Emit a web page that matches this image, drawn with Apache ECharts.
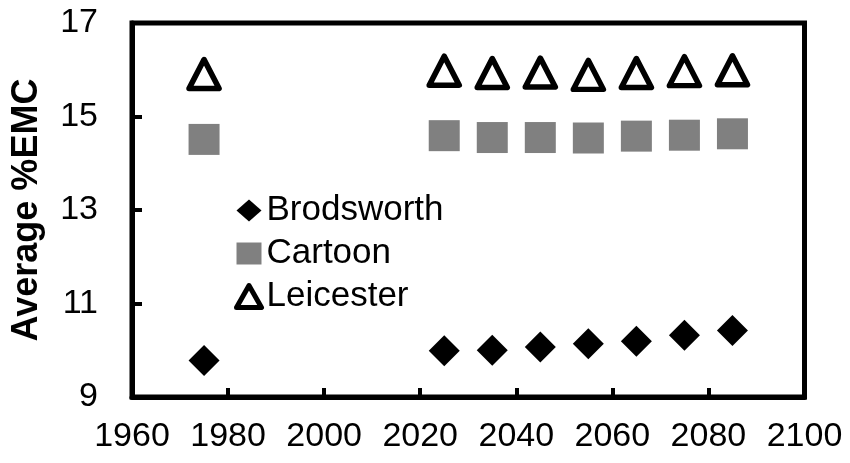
<!DOCTYPE html>
<html>
<head>
<meta charset="utf-8">
<script src="https://cdn.jsdelivr.net/npm/echarts@6/dist/echarts.min.js"></script>
<style>
html, body { margin: 0; padding: 0; background: #fff; }
#chart { width: 850px; height: 463px; }
</style>
</head>
<body>
<div id="chart"></div>
<script>
// Sampling years: historic baseline plus future decades
const years = [1975, 2025, 2035, 2045, 2055, 2065, 2075, 2085];

// Average equilibrium moisture content (%EMC) per site
const brodsworth = [9.78, 9.99, 10.00, 10.07, 10.14, 10.19, 10.32, 10.42];
const cartoon    = [14.51, 14.59, 14.55, 14.55, 14.54, 14.58, 14.60, 14.63];
const leicester  = [15.91, 15.98, 15.93, 15.94, 15.89, 15.93, 15.97, 15.99];

const xTicks = { min: 1960, max: 2100, step: 20 };
const yTicks = { min: 9, max: 17, step: 2 };

const font = "'Liberation Sans', Arial, sans-serif";

function pairs(vals) {
  return years.map((y, i) => [y, vals[i]]);
}

const chart = echarts.init(document.getElementById('chart'), null, { renderer: 'canvas' });

chart.setOption({
  animation: false,
  backgroundColor: '#ffffff',
  grid: {
    left: 132, right: 45.5, top: 23, bottom: 66,
    show: true, borderColor: '#000', borderWidth: 5, backgroundColor: 'transparent'
  },
  xAxis: {
    type: 'value',
    min: xTicks.min, max: xTicks.max, interval: xTicks.step,
    axisLine: { show: true, lineStyle: { color: '#000', width: 5 } },
    axisTick: { show: true, inside: true, length: 9, lineStyle: { color: '#000', width: 4 } },
    splitLine: { show: false },
    axisLabel: { color: '#000', fontFamily: font, fontSize: 34, margin: 23,
      formatter: v => String(v) }
  },
  yAxis: {
    type: 'value',
    min: yTicks.min, max: yTicks.max, interval: yTicks.step,
    name: 'Average %EMC',
    nameLocation: 'middle',
    nameRotate: 90,
    nameGap: 87,
    nameTextStyle: { color: '#000', fontFamily: font, fontSize: 36, fontWeight: 'bold' },
    axisLine: { show: true, lineStyle: { color: '#000', width: 5 } },
    axisTick: { show: true, inside: true, length: 10, lineStyle: { color: '#000', width: 4 } },
    splitLine: { show: false },
    axisLabel: { color: '#000', fontFamily: font, fontSize: 34, margin: 34 }
  },
  legend: {
    orient: 'vertical',
    left: 229, top: 188,
    itemWidth: 25, itemHeight: 22,
    itemGap: 8, itemTextGap: 6,
    textStyle: { color: '#000', fontFamily: font, fontSize: 35 },
    data: [
      { name: 'Brodsworth', icon: 'diamond', itemStyle: { color: '#000', borderWidth: 0 } },
      { name: 'Cartoon', icon: 'rect', itemStyle: { color: '#808080', borderWidth: 0 } },
      { name: 'Leicester', icon: 'triangle',
        itemStyle: { color: '#fff', borderColor: '#000', borderWidth: 5, borderJoin: 'round' } }
    ]
  },
  series: [
    {
      name: 'Brodsworth', type: 'scatter', data: pairs(brodsworth),
      symbol: 'diamond', symbolSize: 31,
      itemStyle: { color: '#000', opacity: 1 }
    },
    {
      name: 'Cartoon', type: 'scatter', data: pairs(cartoon),
      symbol: 'rect', symbolSize: 31,
      itemStyle: { color: '#808080', opacity: 1 }
    },
    {
      name: 'Leicester', type: 'scatter', data: pairs(leicester),
      symbol: 'triangle', symbolSize: [30, 29],
      itemStyle: { color: '#fff', borderColor: '#000', borderWidth: 5.5, borderJoin: 'round', opacity: 1 }
    }
  ]
});
</script>
</body>
</html>
